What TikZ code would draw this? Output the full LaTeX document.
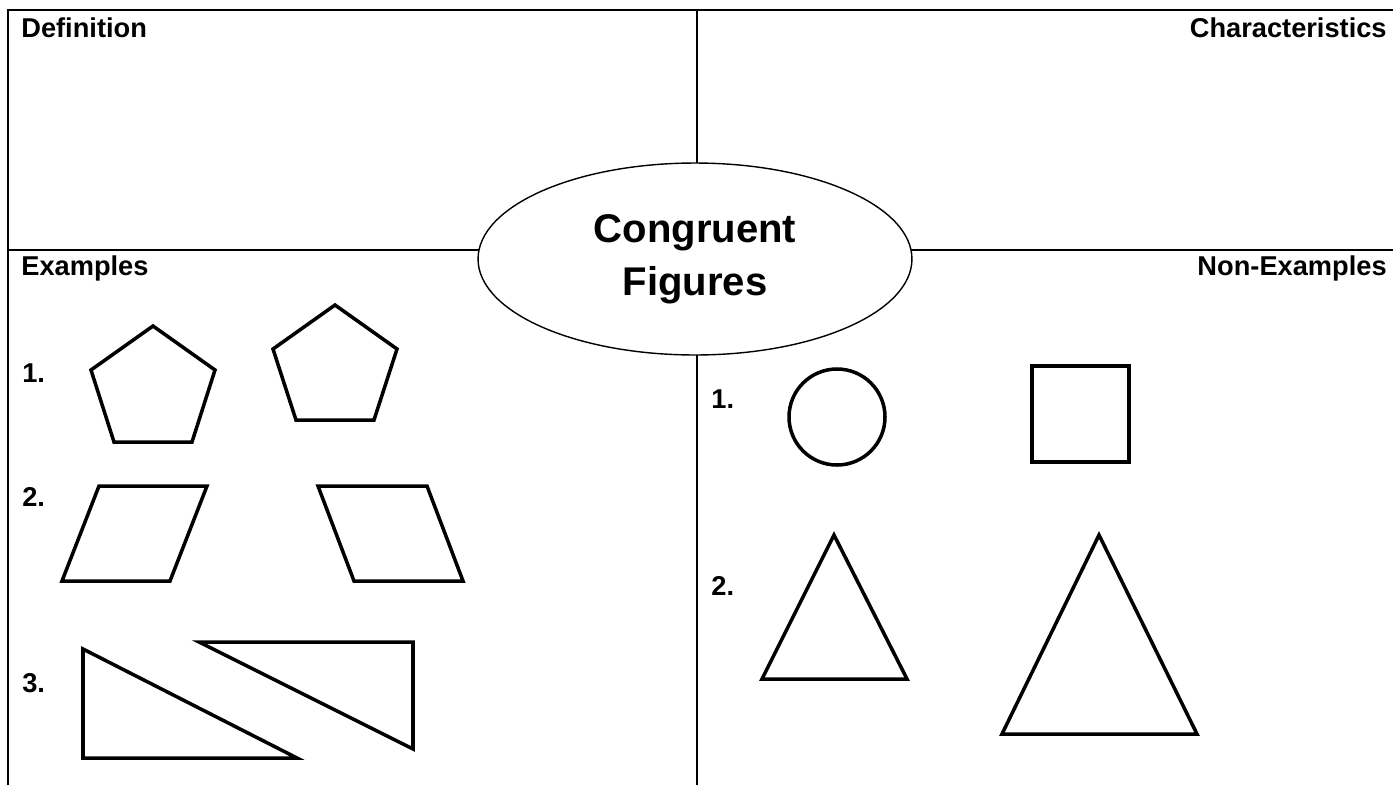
\documentclass[tikz,border=0pt]{standalone}
\usepackage{fontspec}
\setmainfont{Liberation Sans}
\usepackage{tikz}
\usetikzlibrary{shapes.geometric}

\begin{document}
\begin{tikzpicture}[
      x=0.02cm, y=-0.02cm,
      frame/.style={line width=1.1pt, black},
      figure/.style={line width=2pt, black, line join=miter},
      lbl/.style={inner sep=0pt, font=\bfseries\fontsize{15.5}{18}\selectfont},
      title/.style={ellipse, draw, fill=white, line width=0.8pt,
                    minimum width=8.68cm, minimum height=3.84cm, inner sep=0pt,
                    align=center, font=\bfseries\fontsize{22.8}{30}\selectfont}
    ]
    \useasboundingbox (0,0) rectangle (1393,785);

    % Frame and quadrants
    \draw[frame] (8,785) -- (8,10) -- (1393,10);
    \draw[frame] (697,10) -- (697,785);
    \draw[frame] (8,250) -- (1393,250);

    % Centre ellipse
    \node[title] (topic) at (695,259) {Congruent\\Figures};

    % Quadrant headings
    \node[lbl, anchor=base west] (defn) at (21,37) {Definition};
    \node[lbl, anchor=base east] (chars) at (1387,37) {Characteristics};
    \node[lbl, anchor=base west] (exs) at (21,275) {Examples};
    \node[lbl, anchor=base east] (nonexs) at (1387,275) {Non-Examples};

    % Examples
    \node[lbl, anchor=base west] (ex1) at (22,382) {1.};
    \node[lbl, anchor=base west] (ex2) at (22,506) {2.};
    \node[lbl, anchor=base west] (ex3) at (22,692) {3.};
    \draw[figure] (153,326) -- (215,370) -- (192,442) -- (114,442) -- (91,370) -- cycle;
    \draw[figure] (335,305) -- (397,349) -- (374,420) -- (296,420) -- (273,349) -- cycle;
    \draw[figure] (99,486) -- (207,486) -- (170,581) -- (62,581) -- cycle;
    \draw[figure] (318,486) -- (427,486) -- (463,581) -- (354,581) -- cycle;
    \draw[figure] (83,649) -- (297,758) -- (83,758) -- cycle;
    \draw[figure] (199,642) -- (413,642) -- (413,749) -- cycle;

    % Non-examples
    \node[lbl, anchor=base west] (non1) at (711,408) {1.};
    \node[lbl, anchor=base west] (non2) at (711,595) {2.};
    \draw[figure] (837,417) circle[radius=48];
    \draw[figure] (1032,366) rectangle (1129,462);
    \draw[figure] (834,535) -- (907,679) -- (762,679) -- cycle;
    \draw[figure] (1099,535) -- (1197,734) -- (1002,734) -- cycle;

  \end{tikzpicture}
\end{document}
